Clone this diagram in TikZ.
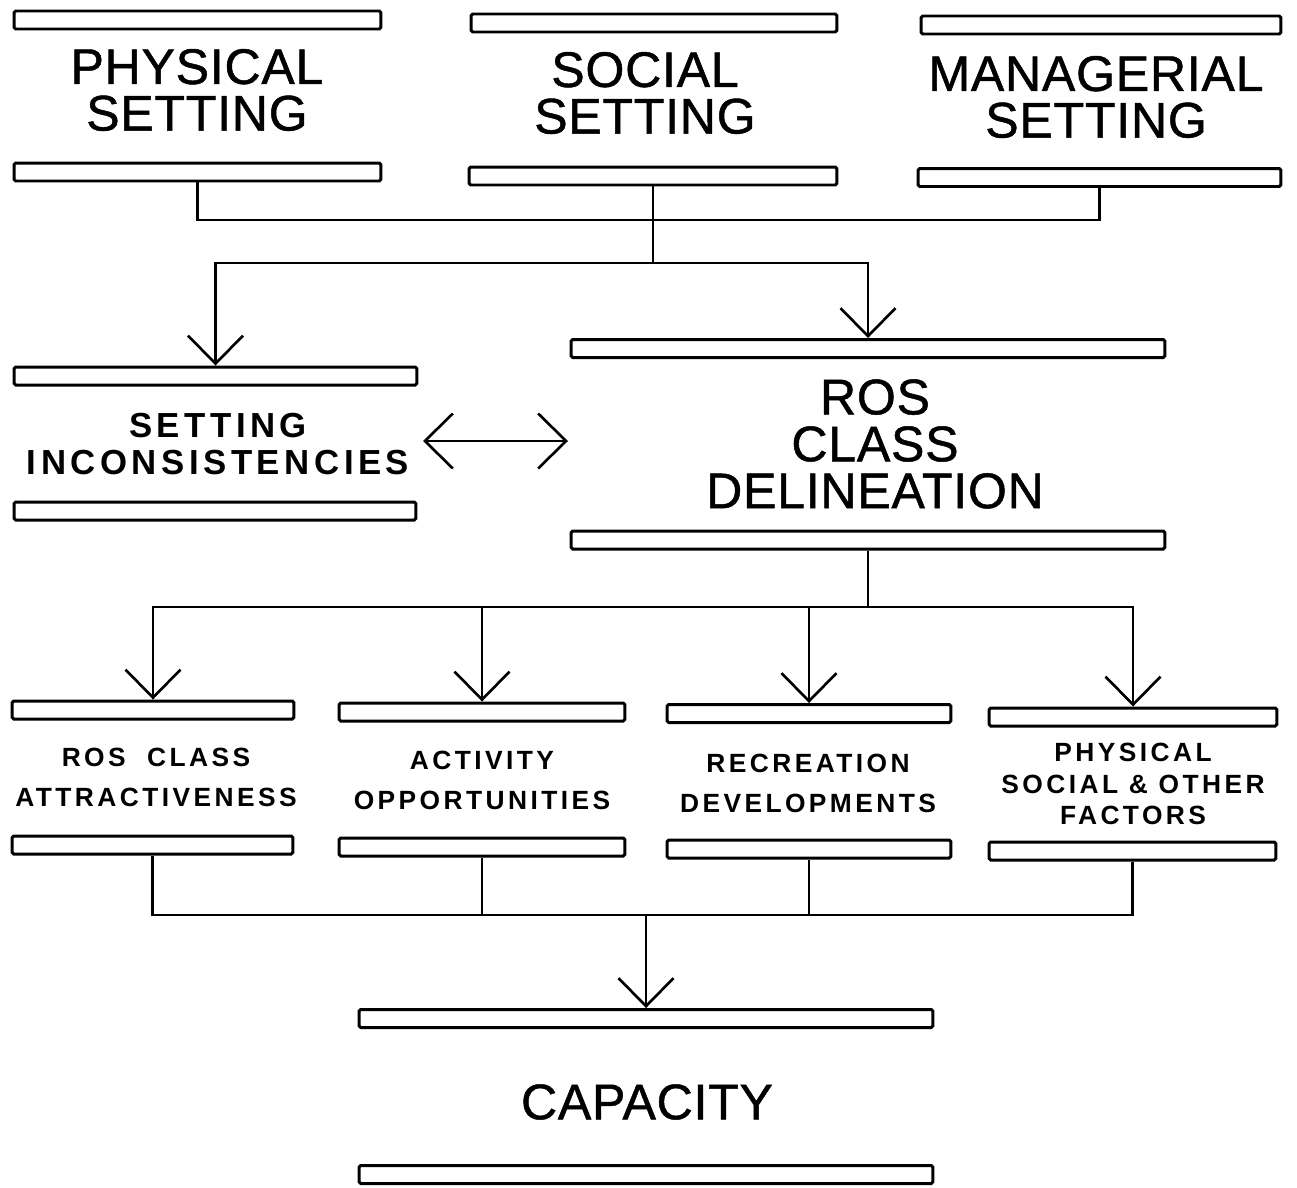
\documentclass[tikz,border=0pt]{standalone}
\usepackage{fontspec}
\setmainfont{Liberation Sans}
\newfontfamily\heavy[FakeBold=1,LetterSpace=1.5]{Liberation Sans}
\newfontfamily\spaced[LetterSpace=13]{Liberation Sans}
\newfontfamily\widespaced[LetterSpace=13]{Liberation Sans}
\usetikzlibrary{arrows.meta}

\begin{document}
\begin{tikzpicture}[x=0.02cm, y=-0.02cm,
  bar/.style={draw, line width=1.7pt, rounded corners=1pt, inner sep=0pt, minimum height=0.36cm},
  big/.style={align=center, inner sep=0pt, font=\heavy\fontsize{28.5}{26.5}\selectfont},
  mid/.style={align=center, inner sep=0pt, font=\spaced\bfseries\fontsize{19.8}{21.5}\selectfont},
  small/.style={align=center, inner sep=0pt, font=\widespaced\bfseries\fontsize{15}{22.7}\selectfont},
  smallthree/.style={small, font=\widespaced\bfseries\fontsize{15}{17.9}\selectfont},
  link/.style={line width=1.2pt},
  tip/.style={line width=1.5pt, -{Straight Barb[length=0.56cm, width=1.1cm]}}]
\useasboundingbox (0,0) rectangle (1297,1187);
% Top row
\node[bar, minimum width=7.34cm] (physT) at (197.5,20) {};
\node[big] (physText) at (197,90) {PHYSICAL\\SETTING};
\node[bar, minimum width=7.34cm] (physB) at (197.5,172) {};
\node[bar, minimum width=7.32cm] (socT) at (654,23) {};
\node[big] (socText) at (645,93) {SOCIAL\\SETTING};
\node[bar, minimum width=7.36cm] (socB) at (653,176) {};
\node[bar, minimum width=7.2cm] (manT) at (1101,25) {};
\node[big] (manText) at (1096,97) {MANAGERIAL\\SETTING};
\node[bar, minimum width=7.26cm] (manB) at (1099.5,177.5) {};
\coordinate (topjoin) at (653,220);
\coordinate (split) at (653,263);
\draw[link] (physB.south) |- (topjoin) -| (manB.south);
\draw[link] (socB.south) -- (split);
% Setting inconsistencies and ROS class
\node[bar, minimum width=8.06cm] (incT) at (215.5,376) {};
\node[mid] (incText) at (218,444) {SETTING\\INCONSISTENCIES};
\node[bar, minimum width=8.04cm] (incB) at (215,511) {};
\node[bar, minimum width=11.88cm] (rosT) at (868,348.5) {};
\node[big, font=\heavy\fontsize{28.5}{26.7}\selectfont] (rosText) at (875,444) {ROS\\CLASS\\DELINEATION};
\node[bar, minimum width=11.88cm] (rosB) at (868,540) {};
\draw[link, tip] (split) -| (incT.north);
\draw[link, tip] (split) -| (rosT.north);
\coordinate (incR) at (423,441);
\coordinate (rosL) at (568,441);
\draw[link, line width=1.5pt, {Straight Barb[length=0.56cm, width=1.1cm]}-{Straight Barb[length=0.56cm, width=1.1cm]}] (incR) -- (rosL);
% Four factors
\coordinate (fanout) at (868,607);
\draw[link] (rosB.south) -- (fanout);
\node[bar, minimum width=5.64cm] (attrT) at (153,710) {};
\node[small] (attrText) at (156,777) {ROS\ \ CLASS\\ATTRACTIVENESS};
\node[bar, minimum width=5.62cm] (attrB) at (152.5,845) {};
\node[bar, minimum width=5.72cm] (actT) at (482,712) {};
\node[small] (actText) at (482,780) {ACTIVITY\\OPPORTUNITIES};
\node[bar, minimum width=5.72cm] (actB) at (482,847) {};
\node[bar, minimum width=5.68cm] (recT) at (809,713.5) {};
\node[small] (recText) at (808,783) {RECREATION\\DEVELOPMENTS};
\node[bar, minimum width=5.68cm] (recB) at (809,849) {};
\node[bar, minimum width=5.76cm] (othT) at (1133,717) {};
\node[smallthree] (othText) at (1133,784) {PHYSICAL\\SOCIAL \& OTHER\\FACTORS};
\node[bar, minimum width=5.74cm] (othB) at (1132.5,851) {};
\foreach \factor in {attrT, actT, recT, othT}
  \draw[link, tip] (fanout) -| (\factor.north);
% Capacity
\coordinate (merge) at (646,915);
\foreach \factor in {attrB, actB, recB, othB}
  \draw[link] (\factor.south) |- (merge);
\node[bar, minimum width=11.48cm] (capT) at (646,1018.5) {};
\node[big] (capText) at (647,1102) {CAPACITY};
\node[bar, minimum width=11.48cm] (capB) at (646,1174.5) {};
\draw[link, tip] (merge) -- (capT.north);
\end{tikzpicture}
\end{document}
